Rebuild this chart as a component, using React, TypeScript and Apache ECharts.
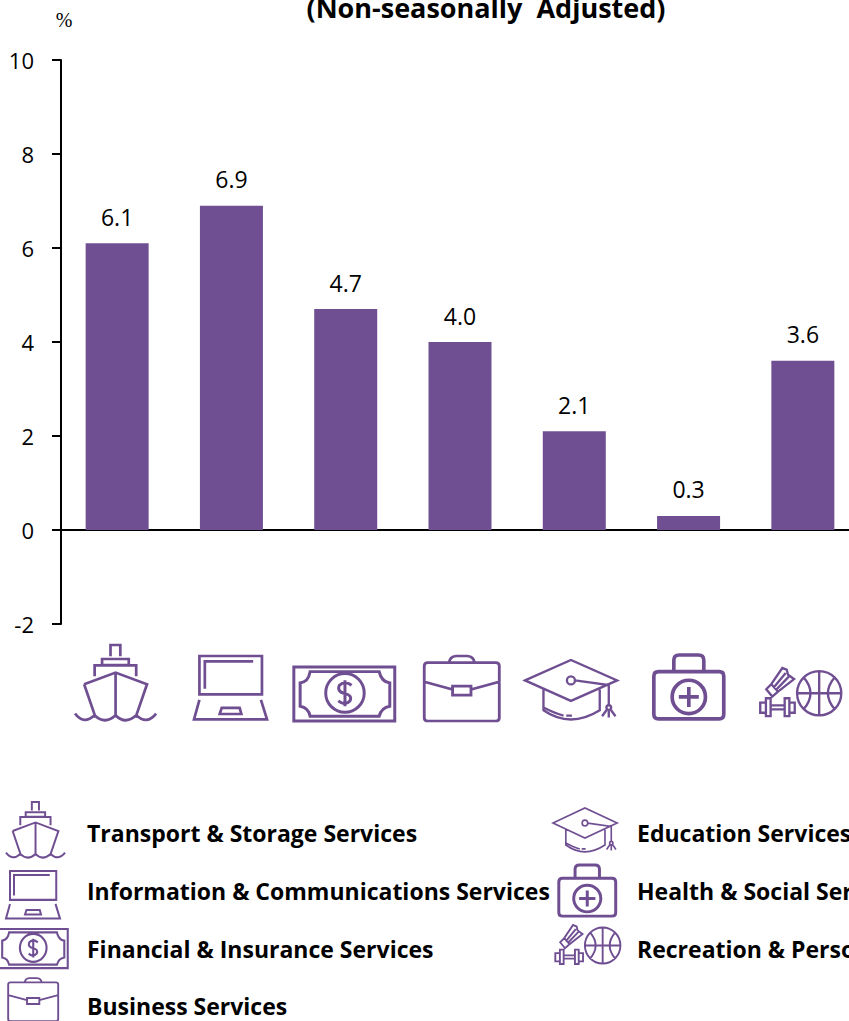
import React, { useEffect, useRef } from "react";
import * as echarts from "echarts";

const categories = [
  "Transport & Storage Services",
  "Information & Communications Services",
  "Financial & Insurance Services",
  "Business Services",
  "Education Services",
  "Health & Social Services",
  "Recreation & Personal Services",
];
const values = [6.1, 6.9, 4.7, 4.0, 2.1, 0.3, 3.6];
const titleText = "(Non-seasonally  Adjusted)";
const unitText = "%";

const PURPLE = "#6F4F92";
const TEXT_FONT = '"Open Sans", "Noto Sans", sans-serif';

const circle = (cx: number, cy: number, r: number) =>
  `M${cx - r} ${cy}A${r} ${r} 0 1 1 ${cx + r} ${cy}A${r} ${r} 0 1 1 ${cx - r} ${cy}Z`;

const iconPaths: Record<string, string> = {
  ship:
    "M152 78V44H181V78M127 104V86H206V104H127M105 138V105H228V138M74 162L167 127L260 162L226 262M74 162L108 262M167 127V262M47 250Q72 285 105 255Q135 285 167 255Q195 285 228 255Q260 285 287 250",
  laptop:
    "M418 78H603V192H418ZM434 175V94H577M418 208L402 266H618L600 208M478 250L484 232H537L542 250Z",
  money:
    "M701 110H1005V272H701ZM750 124H958Q965 155 990 158V228Q965 232 958 258H750Q745 232 720 228V158Q745 155 750 124Z" +
    circle(855, 188, 58) +
    "M875 165Q855 150 838 165Q830 185 855 190Q878 195 870 212Q855 228 835 212M855 150V228",
  briefcase:
    "M1100 150V262Q1100 272 1110 272H1302Q1312 272 1312 262V150M1100 155V108Q1100 98 1110 98H1302Q1312 98 1312 108V155L1232 178M1100 155L1180 178M1180 168H1232V195H1180ZM1170 98Q1172 80 1190 78H1222Q1240 80 1242 98",
  cap:
    "M75 151L212 90L350 151L212 212ZM130 176V240Q210 295 298 240V178M130 232Q165 250 190 256M198 256H215" +
    circle(212, 151, 12) +
    "M224 151L325 165V225" +
    circle(325, 232, 7) +
    "M318 240L305 258M332 240L345 258M325 240V262",
  medkit:
    "M476 124H658Q672 124 672 138V252Q672 266 658 266H476Q462 266 462 252V138Q462 124 476 124ZM522 124V90Q522 74 538 74H596Q612 74 612 90V124" +
    circle(567, 200, 50) +
    "M567 170V230M537 200H597",
  sports:
    circle(955, 190, 66) +
    "M955 124V256M889 190H1021M909 143Q949 190 909 237M1001 143Q961 190 1001 237M797 178L815 200L832 185L812 163ZM812 163L845 115L858 120L862 135L880 148L832 185M820 172L855 130M828 178L865 140M808 226H852M808 238H852M796 205H810V258H796ZM852 205H866V258H852ZM779 218H796V248H779ZM866 218H882V248H866Z",
};

// bounding boxes of the drawings, in path units
const iconBox: Record<string, number[]> = {
  ship: [47, 44, 287, 272],
  laptop: [402, 78, 618, 268],
  money: [701, 110, 1005, 272],
  briefcase: [1100, 78, 1312, 272],
  cap: [75, 90, 350, 272],
  medkit: [462, 74, 672, 266],
  sports: [779, 115, 1021, 258],
};
const iconNames = ["ship", "laptop", "money", "briefcase", "cap", "medkit", "sports"];
const iconWeight: Record<string, number> = { ship: 8, laptop: 8, money: 9, briefcase: 8, cap: 7, medkit: 11, sports: 7 };

const axisIconBoxes = [
  [75, 645, 156, 721],
  [194, 656, 267, 720],
  [294, 667, 395, 721],
  [424, 656, 499, 721],
  [525, 660, 617, 721],
  [654, 655, 724, 719],
  [760, 668, 841, 716],
];
const legendIconBoxes = [
  [6, 802, 65, 858],
  [6, 871, 60, 919],
  [-2, 929, 68, 968],
  [8, 978, 58, 1021],
  [553, 808, 617, 853],
  [559, 865, 616, 916],
  [555, 925, 620, 964],
];
const legendLabelPos = [
  [87, 833],
  [87, 891],
  [87, 949],
  [87, 1006],
  [637, 833],
  [637, 891],
  [637, 949],
];

iconNames.forEach((n) => {
  echarts.graphic.registerShape("icon_" + n, echarts.graphic.extendPath(iconPaths[n] as any, {} as any) as any);
});

function placeIcon(name: string, t: number[]) {
  const b = iconBox[name];
  const sx = (t[2] - t[0]) / (b[2] - b[0]);
  const sy = (t[3] - t[1]) / (b[3] - b[1]);
  return {
    type: "icon_" + name,
    x: t[0] - b[0] * sx,
    y: t[1] - b[1] * sy,
    scaleX: sx,
    scaleY: sy,
    silent: true,
    style: { fill: "none", stroke: PURPLE, lineWidth: iconWeight[name] },
  };
}

export default function App() {
  const ref = useRef<HTMLDivElement>(null);
  useEffect(() => {
    document.body.style.margin = "0";
    const chart = echarts.init(ref.current!, undefined, { renderer: "svg" });
    chart.setOption({
      animation: false,
      backgroundColor: "#ffffff",
      grid: { left: 60, top: 60, width: 800, height: 564, containLabel: false, outerBoundsMode: "none" },
      xAxis: {
        type: "category",
        data: categories,
        axisLine: { onZero: true, lineStyle: { color: "#000", width: 2 } },
        axisTick: { show: false },
        axisLabel: { show: false },
      },
      yAxis: {
        type: "value",
        min: -2,
        max: 10,
        interval: 2,
        offset: -1,
        splitLine: { show: false },
        axisLine: { show: true, onZero: false, lineStyle: { color: "#000", width: 2 } },
        axisTick: { show: true, length: 9, lineStyle: { color: "#000", width: 2 } },
        axisLabel: { color: "#000", fontSize: 22, margin: 27, fontFamily: TEXT_FONT },
      },
      series: [
        {
          type: "bar",
          data: values,
          barWidth: 63,
          itemStyle: { color: PURPLE },
          label: {
            show: true,
            position: "top",
            distance: 15,
            color: "#000",
            fontSize: 23,
            fontFamily: TEXT_FONT,
            formatter: (p: any) => Number(p.value).toFixed(1),
          },
        },
      ],
      graphic: [
        {
          type: "text",
          x: 486,
          y: 7,
          silent: true,
          style: {
            text: titleText,
            fill: "#000",
            font: `bold 27px ${TEXT_FONT}`,
            textAlign: "center",
            textVerticalAlign: "middle",
          },
        },
        {
          type: "text",
          x: 64,
          y: 20,
          silent: true,
          style: {
            text: unitText,
            fill: "#000",
            font: '20px "Liberation Serif", serif',
            textAlign: "center",
            textVerticalAlign: "middle",
          },
        },
        ...iconNames.map((n, i) => placeIcon(n, axisIconBoxes[i])),
        ...iconNames.map((n, i) => placeIcon(n, legendIconBoxes[i])),
        ...categories.map((c, i) => ({
          type: "text",
          x: legendLabelPos[i][0],
          y: legendLabelPos[i][1],
          silent: true,
          style: {
            text: c,
            fill: "#000",
            font: `bold 23px ${TEXT_FONT}`,
            textAlign: "left",
            textVerticalAlign: "middle",
          },
        })),
      ],
    });
    return () => chart.dispose();
  }, []);
  return <div ref={ref} style={{ width: 849, height: 1021 }} />;
}
